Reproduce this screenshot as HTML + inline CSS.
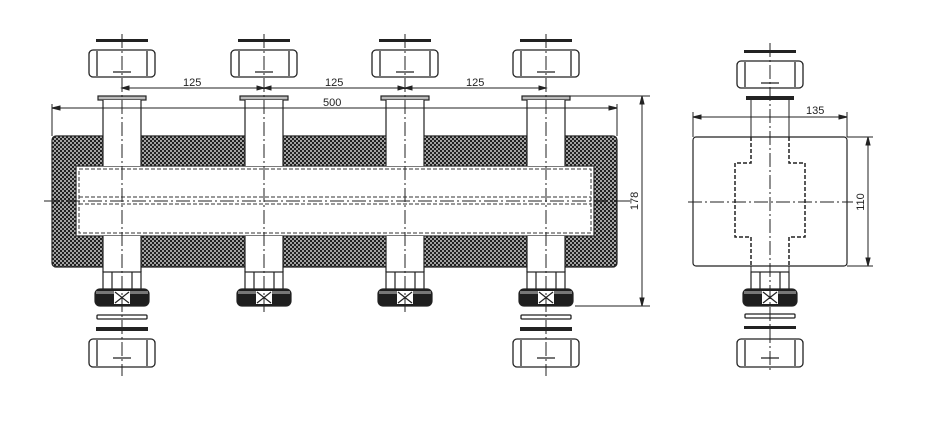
<!DOCTYPE html>
<html><head><meta charset="utf-8"><style>
html,body{margin:0;padding:0;background:#fff;width:926px;height:431px;overflow:hidden}
svg{display:block}
text{font-family:"Liberation Sans",sans-serif;font-size:11px;fill:#222}
</style></head><body>
<svg width="926" height="431" viewBox="0 0 926 431" xmlns="http://www.w3.org/2000/svg">
<defs>
<pattern id="h" width="4" height="4" patternUnits="userSpaceOnUse">
<rect width="4" height="4" fill="#222"/><circle cx="1" cy="1" r="0.9" fill="#fff"/><circle cx="3" cy="3" r="0.9" fill="#fff"/>
</pattern>
<g id="topnut" stroke="#222" fill="none" stroke-width="1.3">
<rect x="-26" y="39" width="52" height="3" fill="#222" stroke="none"/>
<rect x="-33" y="50" width="66" height="27" rx="4" fill="#fff"/>
<line x1="-25" y1="51" x2="-25" y2="76"/><line x1="25" y1="51" x2="25" y2="76"/>
<line x1="-9" y1="72" x2="9" y2="72"/>
</g>
<g id="bot" stroke="#222" stroke-width="1.2">
<rect x="-19" y="272" width="38" height="18" fill="#fff"/>
<line x1="-10" y1="272" x2="-10" y2="290"/><line x1="10" y1="272" x2="10" y2="290"/>
<rect x="-27" y="289" width="54" height="17" rx="5" fill="#1e1e1e"/>
<rect x="-26" y="291" width="52" height="3" fill="#777" stroke="none"/>
<rect x="-8" y="291" width="16" height="13" fill="#fff" stroke="none"/>
<path d="M-7 292 L7 303 M7 292 L-7 303" stroke="#222" fill="none"/>
</g>
<g id="bnut" stroke="#222" fill="none" stroke-width="1.3">
<rect x="-25" y="315" width="50" height="4" rx="1"/>
<rect x="-26" y="327" width="52" height="4" fill="#222" stroke="none"/>
<rect x="-33" y="339" width="66" height="28" rx="4" fill="#fff"/>
<line x1="-25" y1="340" x2="-25" y2="366"/><line x1="25" y1="340" x2="25" y2="366"/>
<line x1="-9" y1="358" x2="9" y2="358"/>
</g>
<g id="pipe" stroke="#222" stroke-width="1.2">
<rect x="-24" y="96" width="48" height="4" fill="#bbb"/>
<rect x="-19" y="100" width="38" height="66" fill="#fff" stroke="none"/>
<rect x="-19" y="236" width="38" height="36" fill="#fff" stroke="none"/>
<line x1="-19" y1="100" x2="-19" y2="166"/><line x1="19" y1="100" x2="19" y2="166"/>
<line x1="-19" y1="236" x2="-19" y2="272"/><line x1="19" y1="236" x2="19" y2="272"/>
</g>
</defs>

<rect x="52" y="136" width="565" height="131" rx="4" fill="url(#h)" stroke="#222" stroke-width="1.2"/>
<rect x="76" y="166" width="518" height="70" fill="#fff" stroke="#222" stroke-width="1.2"/>
<rect x="79" y="169" width="512" height="64" fill="none" stroke="#333" stroke-width="1" stroke-dasharray="4 2"/>
<line x1="79" y1="197" x2="591" y2="197" stroke="#333" stroke-dasharray="4 2"/>
<line x1="79" y1="204" x2="591" y2="204" stroke="#333" stroke-dasharray="4 2"/>
<line x1="44" y1="201" x2="633" y2="201" stroke="#222" stroke-dasharray="14 3 2 3"/>

<g transform="translate(122,0)"><use href="#pipe"/><use href="#topnut"/><use href="#bot"/><use href="#bnut"/></g>
<g transform="translate(264,0)"><use href="#pipe"/><use href="#topnut"/><use href="#bot"/></g>
<g transform="translate(405,0)"><use href="#pipe"/><use href="#topnut"/><use href="#bot"/></g>
<g transform="translate(546,0)"><use href="#pipe"/><use href="#topnut"/><use href="#bot"/><use href="#bnut"/></g>

<g stroke="#222" stroke-dasharray="14 3 2 3" stroke-width="1">
<line x1="122" y1="34" x2="122" y2="376"/>
<line x1="264" y1="34" x2="264" y2="312"/>
<line x1="405" y1="34" x2="405" y2="312"/>
<line x1="546" y1="34" x2="546" y2="376"/>
</g>

<g stroke="#222" stroke-width="1" fill="#222">
<line x1="122" y1="88" x2="546" y2="88"/>
<path d="M122 88 l7 -2 v4z M264 88 l-7 -2 v4z M264 88 l7 -2 v4z M405 88 l-7 -2 v4z M405 88 l7 -2 v4z M546 88 l-7 -2 v4z"/>
<line x1="52" y1="108" x2="617" y2="108"/>
<line x1="52" y1="104" x2="52" y2="136"/><line x1="617" y1="104" x2="617" y2="136"/>
<path d="M52 108 l8 -2 v4z M617 108 l-8 -2 v4z"/>
<line x1="570" y1="96" x2="650" y2="96"/>
<line x1="575" y1="306" x2="650" y2="306"/>
<line x1="642" y1="96" x2="642" y2="306"/>
<path d="M642 96 l-2 8 h4z M642 306 l-2 -8 h4z"/>
</g>
<text x="183" y="86">125</text><text x="325" y="86">125</text><text x="466" y="86">125</text>
<text x="323" y="106">500</text>
<text transform="translate(638,201) rotate(-90)" text-anchor="middle">178</text>

<rect x="693" y="137" width="154" height="129" rx="3" fill="#fff" stroke="#222" stroke-width="1.2"/>
<path d="M751 137 V163 H735 V237 H751 V266 M789 137 V163 H805 V237 H789 V266" fill="none" stroke="#222" stroke-width="1.5" stroke-dasharray="4 2"/>
<g transform="translate(770,11)"><use href="#topnut"/></g>
<rect x="746" y="96" width="48" height="4" fill="#222"/>
<line x1="751" y1="100" x2="751" y2="137" stroke="#222"/><line x1="789" y1="100" x2="789" y2="137" stroke="#222"/>
<line x1="751" y1="266" x2="751" y2="273" stroke="#222"/><line x1="789" y1="266" x2="789" y2="273" stroke="#222"/>
<g transform="translate(770,0)"><use href="#bot"/></g>
<g transform="translate(770,0)" stroke="#222" fill="none" stroke-width="1.3">
<rect x="-25" y="314" width="50" height="4" rx="1"/>
<rect x="-26" y="326" width="52" height="3" fill="#222" stroke="none"/>
<rect x="-33" y="339" width="66" height="28" rx="4" fill="#fff"/>
<line x1="-25" y1="340" x2="-25" y2="366"/><line x1="25" y1="340" x2="25" y2="366"/>
<line x1="-9" y1="358" x2="9" y2="358"/>
</g>
<g stroke="#222" stroke-dasharray="14 3 2 3" stroke-width="1">
<line x1="770" y1="43" x2="770" y2="372"/>
<line x1="688" y1="202" x2="853" y2="202"/>
</g>
<g stroke="#222" stroke-width="1" fill="#222">
<line x1="693" y1="117" x2="847" y2="117"/>
<line x1="693" y1="112" x2="693" y2="137"/><line x1="847" y1="112" x2="847" y2="137"/>
<path d="M693 117 l8 -2 v4z M847 117 l-8 -2 v4z"/>
<line x1="847" y1="137" x2="873" y2="137"/><line x1="847" y1="266" x2="873" y2="266"/>
<line x1="868" y1="137" x2="868" y2="266"/>
<path d="M868 137 l-2 8 h4z M868 266 l-2 -8 h4z"/>
</g>
<text x="806" y="114">135</text>
<text transform="translate(864,202) rotate(-90)" text-anchor="middle">110</text>
</svg>
</body></html>
